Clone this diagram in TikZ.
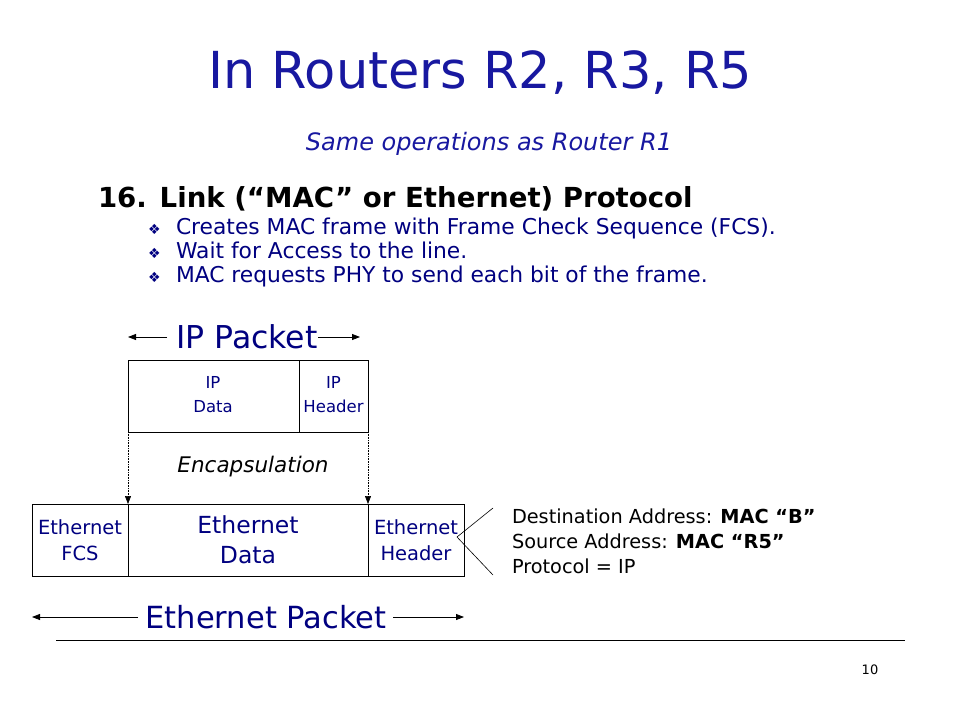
\documentclass[tikz,border=0pt]{standalone}
\usepackage{fontspec}
\setmainfont{DejaVu Sans}
\usetikzlibrary{arrows.meta}
\definecolor{titleblue}{RGB}{24,24,160}
\definecolor{navy}{RGB}{0,0,128}
\begin{document}
\begin{tikzpicture}[x=1pt,y=-1pt,
  txt/.style={inner sep=0pt,outer sep=0pt},
  box/.style={draw=black,line width=0.9pt,inner sep=0pt,outer sep=0pt},
  cell/.style={inner sep=0pt,align=center,text=navy},
  arr/.style={line width=0.8pt,-{Triangle[length=8pt,width=6pt]}},
  dots/.style={densely dotted,line width=0.6pt,-{Triangle[length=8pt,width=6pt]}}]
\useasboundingbox (0,0) rectangle (960,720);
\fill[white] (0,0) rectangle (960,720);
% title
\node[txt,anchor=base,text=titleblue,font=\fontsize{51}{55}\selectfont] (title) at (480,88) {In Routers R2, R3, R5};
\node[txt,anchor=base,text=titleblue,font=\fontsize{24}{26}\selectfont\itshape] (sub) at (489,150) {Same operations as Router R1};
\node[txt,anchor=base west,font=\fontsize{27.6}{30}\selectfont\bfseries] (head) at (98,207) {16. Link (“MAC” or Ethernet) Protocol};
% bullets
\foreach \y/\t [count=\i] in {234/Creates MAC frame with Frame Check Sequence (FCS).,258/Wait for Access to the line.,282/MAC requests PHY to send each bit of the frame.}{
  \node[txt,anchor=base west,text=navy,font=\fontsize{14}{14}\selectfont] (bul\i) at (148,\y) {❖};
  \node[txt,anchor=base west,text=navy,font=\fontsize{21.8}{24}\selectfont] (b\i) at (176,\y) {\t};
}
% IP packet
\node[txt,anchor=base,text=navy,font=\fontsize{31.5}{34}\selectfont] (ippk) at (247,348) {IP Packet};
\coordinate (ipL) at (128,337);
\coordinate (ipR) at (360,337);
\draw[arr] (167,337) -- (ipL);
\draw[arr] (318,337) -- (ipR);
\node[box,minimum width=240pt,minimum height=72pt,anchor=north west] (ipbox) at (128,360) {};
\draw[line width=0.9pt] (299,360) -- (299,432);
\node[cell,font=\fontsize{16.5}{24}\selectfont] (ipdata) at (213,395) {IP\\Data};
\node[cell,font=\fontsize{16.5}{24}\selectfont] (iphdr) at (333.5,395) {IP\\Header};
% ethernet box
\node[box,minimum width=432pt,minimum height=72pt,anchor=north west] (ethbox) at (32,504) {};
\draw[line width=0.9pt] (128,504) -- (128,576);
\draw[line width=0.9pt] (368,504) -- (368,576);
\draw[dots] (ipbox.south west) -- (128,504);
\draw[dots] (ipbox.south east) -- (368,504);
\node[txt,font=\fontsize{21.5}{24}\selectfont\itshape] (enc) at (253,467) {Encapsulation};
\node[cell,font=\fontsize{19.5}{26}\selectfont] (fcs) at (80,540) {Ethernet\\FCS};
\node[cell,font=\fontsize{23.5}{30}\selectfont] (edata) at (248,540) {Ethernet\\Data};
\node[cell,font=\fontsize{19.5}{26}\selectfont] (ehdr) at (416,540) {Ethernet\\Header};
% ethernet packet
\node[txt,anchor=base,text=navy,font=\fontsize{30.5}{33}\selectfont] (ethpk) at (266,628) {Ethernet Packet};
\coordinate (eL) at (32,617);
\coordinate (eR) at (464,617);
\draw[arr] (138,617) -- (eL);
\draw[arr] (393,617) -- (eR);
% callout
\coordinate (apex) at (457,537);
\coordinate (up) at (493,508);
\coordinate (dn) at (493,575);
\draw[line width=0.6pt] (up) -- (apex) -- (dn);
\node[txt,anchor=base west,font=\fontsize{19.3}{21}\selectfont] (dst) at (512,523) {Destination Address: \textbf{MAC “B”}};
\node[txt,anchor=base west,font=\fontsize{19.3}{21}\selectfont] (src) at (512,548) {Source Address: \textbf{MAC “R5”}};
\node[txt,anchor=base west,font=\fontsize{19.3}{21}\selectfont] (prot) at (512,573) {Protocol = IP};
% footer
\coordinate (fl) at (56,640);
\coordinate (fr) at (905,640);
\draw[line width=0.8pt] (fl) -- (fr);
\node[txt,font=\fontsize{13}{15}\selectfont] (pg) at (870,670) {10};
\end{tikzpicture}
\end{document}
